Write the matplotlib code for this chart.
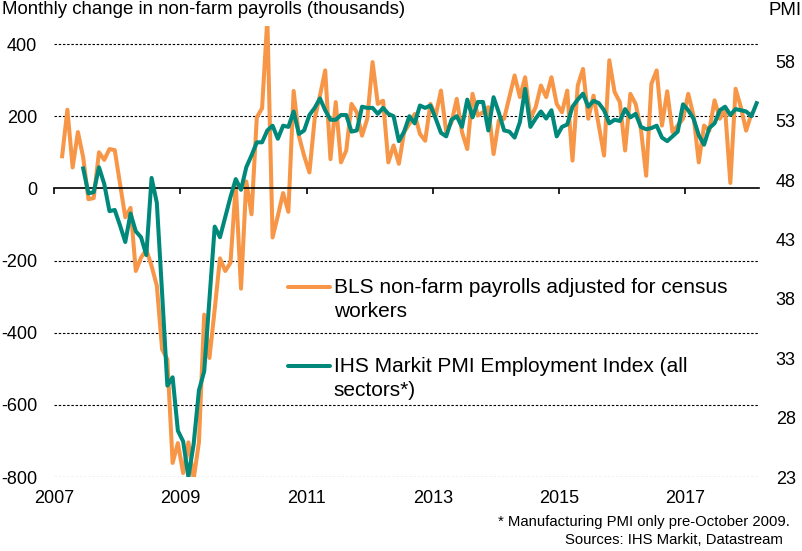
import numpy as np
import pandas as pd
import matplotlib
matplotlib.use('Agg')
import matplotlib.pyplot as plt

plt.rcParams['font.family'] = ['Liberation Sans', 'DejaVu Sans']
plt.rcParams['axes.unicode_minus'] = False

# BLS non-farm payrolls (census adjusted), monthly change in thousands, Feb 2007 - Jan 2018
bls_start = '2007-02'
bls_change = [
    89, 218, 58, 156, 86, -30, -27, 100, 79, 109, 106,
    13, -80, -54, -229, -192, -170, -215, -270, -446, -474, -761, -706,
    -789, -704, -805, -704, -350, -470, -335, -194, -229, -206, 10, -278,
    19, -72, 197, 222, 470, -136, -76, -13, -65, 270, 145, 90,
    44, 193, 257, 327, 81, 239, 72, 105, 234, 211, 146, 193,
    350, 234, 243, 72, 119, 68, 156, 179, 206, 151, 132, 234,
    202, 271, 156, 183, 248, 156, 109, 262, 202, 211, 225, 95,
    188, 193, 253, 313, 253, 308, 193, 225, 285, 253, 308, 234,
    211, 271, 77, 285, 331, 193, 257, 174, 91, 355, 267, 239,
    105, 262, 234, 165, 35, 290, 327, 174, 269, 156, 174, 193,
    262, 202, 72, 174, 160, 244, 193, 220, 15, 276, 225, 160,
    206,
]

# IHS Markit PMI employment index, Jun 2007 - Feb 2018
pmi_start = '2007-06'
pmi_index = [
    49.0, 46.9, 47.0, 49.1, 47.7, 45.4, 45.5,
    44.2, 42.8, 45.2, 43.7, 43.2, 41.7, 48.2, 46.1, 38.5, 30.7, 31.4, 26.9,
    26.0, 23.0, 25.8, 30.3, 31.9, 38.0, 44.1, 43.2, 44.9, 46.6, 48.1, 47.2,
    49.1, 50.1, 51.2, 51.2, 52.2, 52.6, 51.5, 52.6, 52.5, 53.8, 51.9, 52.2,
    53.5, 54.1, 54.9, 53.9, 53.1, 53.1, 53.5, 53.5, 52.1, 52.2, 54.2, 54.1,
    54.1, 53.6, 54.1, 53.6, 53.4, 51.3, 52.1, 53.4, 52.8, 54.3, 54.1, 54.3,
    53.2, 52.0, 51.7, 53.1, 53.4, 52.5, 54.8, 53.3, 54.6, 54.6, 52.2, 55.0,
    53.7, 52.2, 52.1, 51.6, 52.9, 55.7, 52.5, 53.2, 53.8, 53.2, 53.9, 51.7,
    52.5, 52.7, 54.2, 54.8, 55.3, 54.2, 54.7, 54.5, 53.9, 52.8, 53.1, 53.0,
    54.0, 53.3, 53.6, 52.5, 52.3, 52.4, 52.6, 51.6, 51.3, 51.7, 52.1, 54.4,
    53.9, 53.2, 51.8, 51.0, 52.4, 52.8, 53.9, 54.2, 53.5, 54.0, 53.9, 53.8,
    53.4, 54.5,
]

year_ticks = [2007, 2009, 2011, 2013, 2015, 2017]
left_ticks = [-800, -600, -400, -200, 0, 200, 400]
right_ticks = [23, 28, 33, 38, 43, 48, 53, 58]

ORANGE = '#F79646'
TEAL = '#00897B'


def to_years(start, n):
    # monthly periods -> decimal years, plotted a little past mid-month
    p = pd.period_range(start, periods=n, freq='M')
    return p.year + (p.month - 1 + 0.55) / 12.0


bls_x = to_years(bls_start, len(bls_change))
pmi_x = to_years(pmi_start, len(pmi_index))

fig = plt.figure(figsize=(8.02, 5.51), dpi=100)
ax = fig.add_axes([0.0673, 0.1343, 0.8791, 0.8185])

for y in left_ticks:
    if y != 0:
        ax.axhline(y, color='black', lw=0.8, ls=(0, (2.2, 1.6)), zorder=0)

ax.plot(bls_x, bls_change, color=ORANGE, lw=2.9)
ax.set_xlim(2007, 2018 + 2 / 12)
ax.set_ylim(-800, 450)
ax.set_yticks(left_ticks)
ax.tick_params(axis='y', length=0, pad=12, labelsize=13)

for s in ['top', 'right', 'left']:
    ax.spines[s].set_visible(False)
ax.spines['bottom'].set_position(('data', 0))
ax.spines['bottom'].set_linewidth(1.2)
ax.set_xticks(year_ticks)
ax.tick_params(axis='x', length=4, width=1.2, direction='out', labelbottom=False)

lab = ax.secondary_xaxis('bottom')
lab.set_xticks(year_ticks, [str(y) for y in year_ticks])
lab.tick_params(length=0, pad=9, labelsize=13)
lab.spines['bottom'].set_visible(False)

ax2 = ax.twinx()
ax2.plot(pmi_x, pmi_index, color=TEAL, lw=2.9)
ax2.set_ylim(23, 61)
ax2.set_yticks(right_ticks)
ax2.tick_params(axis='y', length=0, pad=12, labelsize=13)
for s in ax2.spines.values():
    s.set_visible(False)

# legend drawn by hand so the key lines sit on the first text line
ax.plot([0.332, 0.391], [0.421, 0.421], transform=ax.transAxes, color=ORANGE,
        lw=2.9, solid_capstyle='round', clip_on=False)
ax.text(0.397, 0.421, 'BLS non-farm payrolls adjusted for census',
        transform=ax.transAxes, va='center', fontsize=15)
ax.text(0.397, 0.366, 'workers', transform=ax.transAxes, va='center', fontsize=15)
ax.plot([0.332, 0.391], [0.246, 0.246], transform=ax.transAxes, color=TEAL,
        lw=2.9, solid_capstyle='round', clip_on=False)
ax.text(0.397, 0.246, 'IHS Markit PMI Employment Index (all',
        transform=ax.transAxes, va='center', fontsize=15)
ax.text(0.397, 0.191, 'sectors*)', transform=ax.transAxes, va='center', fontsize=15)

fig.text(2 / 802, 1 - 1 / 551, 'Monthly change in non-farm payrolls (thousands)',
         ha='left', va='top', fontsize=13.4)
fig.text(802 / 802, 1 - 2 / 551, 'PMI', ha='right', va='top', fontsize=13.4)
fig.text(790 / 802, 1 - 522 / 551, '* Manufacturing PMI only pre-October 2009.',
         ha='right', va='center', fontsize=10.7)
fig.text(783 / 802, 1 - 540 / 551, 'Sources: IHS Markit, Datastream',
         ha='right', va='center', fontsize=10.7)

fig.savefig('out.png', dpi=100)
